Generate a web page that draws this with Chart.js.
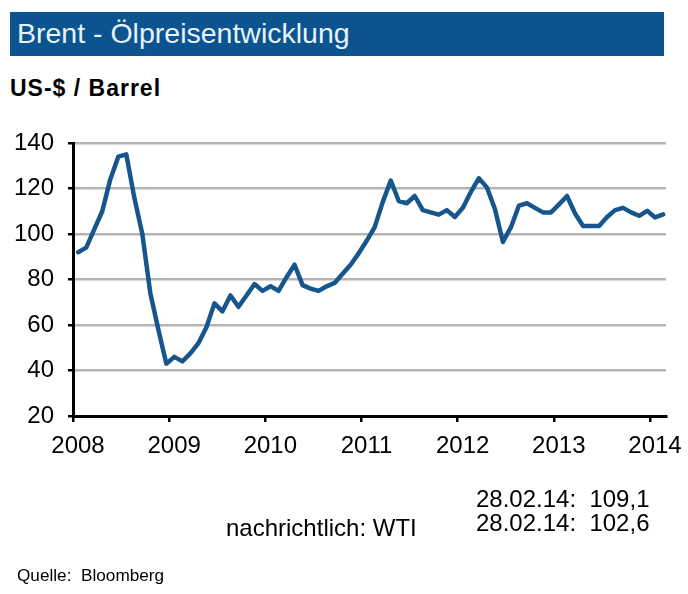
<!DOCTYPE html>
<html lang="de">
<head>
  <meta charset="UTF-8">
  <title>Brent - Ölpreisentwicklung</title>
  <script src="https://cdn.jsdelivr.net/npm/chart.js"></script>
  <style>
    body {
      margin: 0;
      font-family: 'Liberation Sans', Arial, sans-serif;
      background: #ffffff;
      color: #000000;
    }
    .page {
      position: relative;
      width: 688px;
      height: 594px;
      overflow: hidden;
    }
    .txt {
      position: absolute;
      line-height: 1;
      white-space: pre;
    }
    #bar {
      position: absolute;
      left: 10px;
      top: 12px;
      width: 654px;
      height: 44px;
      background: #0b5490;
    }
    #chart {
      position: absolute;
      left: 0;
      top: 0;
    }
  </style>
</head>
<body>
  <div class="page">
    <div id="bar"></div>
    <div class="txt" style="left:17px; top:19px; font-size:28.5px; color:#e8f3fb;">Brent - Ölpreisentwicklung</div>
    <div class="txt" style="left:10px; top:77px; font-size:23px; font-weight:bold; letter-spacing:1px;">US-$ / Barrel</div>
    <canvas id="chart" width="688" height="594"></canvas>
    <div class="txt" style="left:476px; top:487px; font-size:24px;">28.02.14:  109,1</div>
    <div class="txt" style="left:476px; top:511px; font-size:24px;">28.02.14:  102,6</div>
    <div class="txt" style="left:226px; top:516px; font-size:24px;">nachrichtlich: WTI</div>
    <div class="txt" style="left:17px; top:567px; font-size:17.2px;">Quelle:  Bloomberg</div>
  </div>

  <script>
    // Brent, Monatswerte Jan 2008 - Feb 2014 (US-$ / Barrel)
    const brent = [
      92, 94, 102, 110, 124, 134, 135, 116, 100, 74, 58, 43,
      46, 44, 47.5, 52, 59, 69.5, 66, 73, 68, 73, 78, 75,
      77, 75, 81, 86.5, 77.5, 76, 75, 77, 78.5, 82.5, 86.5, 91.5,
      97, 103, 114, 123.5, 114.5, 113.5, 116.7, 110.5, 109.5, 108.5, 110.5, 107.5,
      111.5, 118.5, 124.5, 120.5, 111, 96.5, 103, 112.5, 113.5, 111.5, 109.5, 109.5,
      113, 116.7, 109, 103.5, 103.5, 103.5, 107.5, 110.5, 111.5, 109.5, 108, 110.2,
      107.3, 108.6
    ];
    const firstYear = 2008;
    const yearTicks = ['2008', '2009', '2010', '2011', '2012', '2013', '2014'];
    const yTicks = [20, 40, 60, 80, 100, 120, 140];

    // Punkt liegt etwa bei 2/3 des Monats
    const monthPos = 0.65;
    const points = brent.map((v, i) => ({ x: i + monthPos, y: v }));

    const ctx = document.getElementById('chart').getContext('2d');
    Chart.defaults.font.family = "'Liberation Sans', Arial, sans-serif";
    Chart.defaults.color = '#000000';

    new Chart(ctx, {
      type: 'line',
      data: {
        datasets: [{
          label: 'Brent',
          data: points,
          borderColor: '#17568c',
          borderWidth: 4.5,
          borderJoinStyle: 'round',
          borderCapStyle: 'round',
          pointRadius: 0,
          tension: 0,
          fill: false
        }]
      },
      options: {
        responsive: false,
        animation: false,
        devicePixelRatio: 1,
        layout: {
          padding: { left: 0, top: 143, right: 22, bottom: 138 }
        },
        plugins: {
          legend: { display: false },
          tooltip: { enabled: false }
        },
        scales: {
          x: {
            type: 'linear',
            min: 0,
            max: 74,
            afterFit: scale => { scale.height = 40; },
            afterBuildTicks: scale => {
              scale.ticks = yearTicks.map((t, i) => ({ value: i * 12 }));
            },
            ticks: {
              stepSize: 12,
              includeBounds: false,
              autoSkip: false,
              maxRotation: 0,
              labelOffset: 5,
              padding: 10,
              font: { size: 24 },
              callback: (v, i) => yearTicks[i]
            },
            grid: {
              drawOnChartArea: false,
              drawTicks: true,
              tickLength: 6,
              tickColor: '#000000',
              lineWidth: 2.5
            },
            border: { color: '#000000', width: 3 }
          },
          y: {
            min: 20,
            max: 140,
            afterFit: scale => { scale.width = 73; },
            afterBuildTicks: scale => {
              scale.ticks = yTicks.map(v => ({ value: v }));
            },
            ticks: {
              stepSize: 20,
              padding: 14,
              font: { size: 24 }
            },
            grid: {
              color: '#b4b4b4',
              lineWidth: 2.5,
              drawTicks: true,
              tickLength: 5,
              tickColor: '#000000'
            },
            border: { color: '#000000', width: 3 }
          }
        }
      }
    });
  </script>
</body>
</html>
